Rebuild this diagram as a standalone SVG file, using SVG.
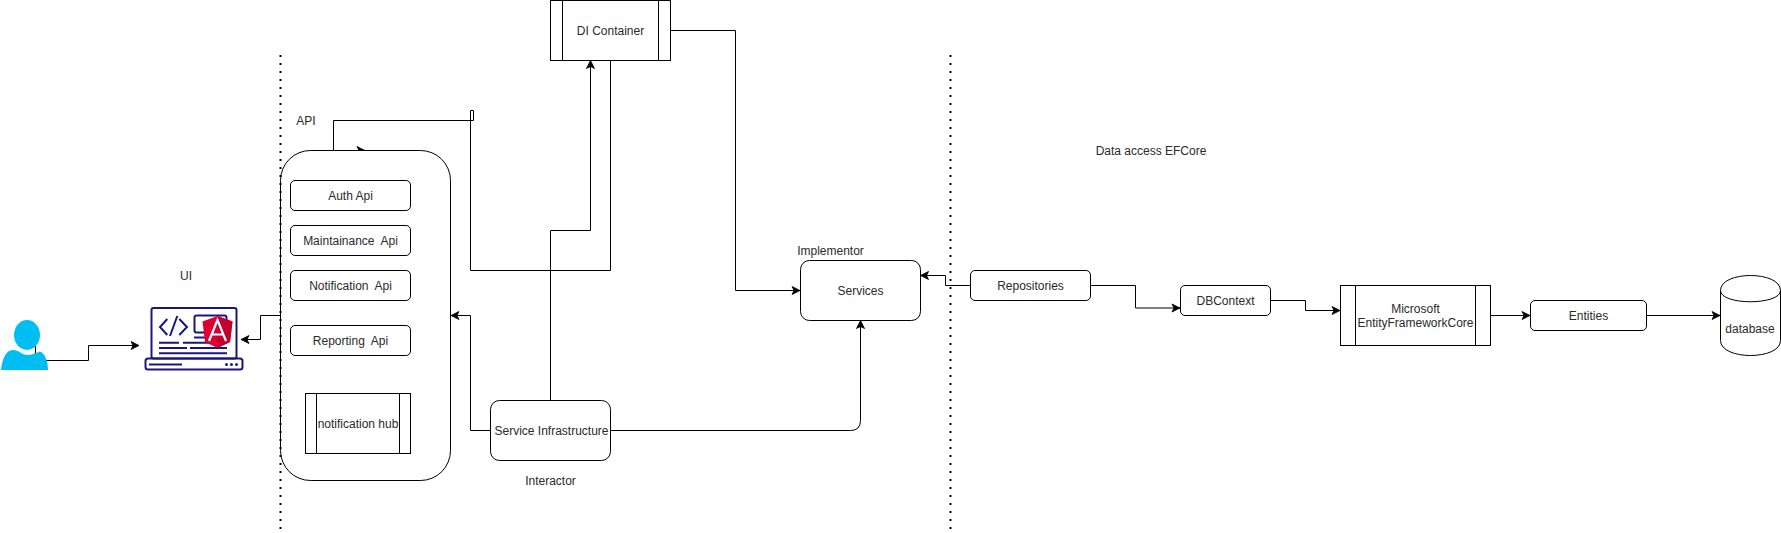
<svg xmlns="http://www.w3.org/2000/svg" width="1781" height="533" viewBox="0 0 1781 533">
<style>
text{font-family:"Liberation Sans",Arial,sans-serif;font-size:12px;fill:#2a2a2a;text-anchor:middle;white-space:pre}
.n{fill:#fff;stroke:#000;stroke-width:1}
.i{fill:none;stroke:#000;stroke-width:1}
.c{fill:none;stroke:#000;stroke-width:1;marker-end:url(#a)}
.d{fill:none;stroke:#000;stroke-width:1}
.v{fill:none;stroke:#000;stroke-width:2;stroke-dasharray:2 6}
.nv{fill:none;stroke:#1a1680;stroke-width:2}
</style>
<defs>
<marker id="a" markerUnits="userSpaceOnUse" markerWidth="10" markerHeight="10" refX="9" refY="5" orient="auto"><path d="M1 1L9 5L1 9L3 5Z" fill="#000" stroke="#000" stroke-width=".8"/></marker>
</defs>
<g id="connectors">
<path class="c" d="M46 360.500H88.500V345.500H139"/>
<path class="c" d="M280 315.500H260.500V339.500H241"/>
<path class="c" d="M610.500 60V270.500H470.500V110.500H473.500V120.500H333.500V150.500H365"/>
<path class="c" d="M550.500 400V230.500H590.500V60.500"/>
<path class="c" d="M490 430.500H470.500V315.500H451"/>
<path class="c" d="M670 30.500H735.500V290.500H800"/>
<path class="c" d="M610.500 430.500H850.500Q860.500 430.500 860.500 420.500V320.500"/>
<path class="c" d="M970 285.500H945.500V275.500H920.500"/>
<path class="c" d="M1090.500 285.500H1135.500V308H1180"/>
<path class="c" d="M1270.500 300.500H1305.500V310.500H1340"/>
<path class="c" d="M1490.500 315.500H1530"/>
<path class="c" d="M1646.500 315.500H1720"/>
</g>
<g id="person">
<path class="d" d="M35.500 346V355"/>
<ellipse cx="27" cy="335" rx="13" ry="15" fill="#00bef2"/>
<path d="M1 370C2 359 6 350 13 350C19 350 22 355 27 355C32 355 36 353 40 351.500C45 353 48 362 48 370Z" fill="#00bef2"/>
</g>
<g id="ui">
<rect x="151.500" y="308" width="85" height="50.500" rx="2" fill="#fff" class="nv"/>
<rect x="145.500" y="358.500" width="97" height="11" rx="2.500" fill="#fff" class="nv"/>
<path class="nv" d="M149 364.500H182" stroke-width="1.500"/>
<circle cx="226.500" cy="364.500" r="1.500" fill="#1a1680" stroke="none"/><circle cx="231.500" cy="364.500" r="1.500" fill="#1a1680"/><circle cx="236.500" cy="364.500" r="1.500" fill="#1a1680"/>
<path class="nv" d="M167.300 319L160 327L167.300 335M177.300 316L170 336M179.300 319L187 327L179.300 335"/>
<rect x="194.500" y="315.500" width="32" height="17" rx="2" class="nv"/>
<path class="nv" d="M194 337.500H206M159 342.700H179M183 342.700H227M159 348H187M190 348H227M159 353.300H227"/>
<path d="M217.500 316L232.500 321.500L230 342L217.500 348L205 342L202.500 321.500Z" fill="#dd0031"/>
<path d="M217.500 316L232.500 321.500L230 342L217.500 348Z" fill="#c3002f"/>
<path d="M209 341L217.500 320L226 341M212 334.500H223" fill="none" stroke="#fff" stroke-width="2.200"/>
</g>
<text x="186" y="280">UI</text>
<text x="306" y="125">API</text>
<g id="api">
<rect class="n" x="280.500" y="150.500" width="170" height="330" rx="30"/>
</g>
<g id="auth-api"><rect class="n" x="290.500" y="180.500" width="120" height="30" rx="4.500"/><text x="350.500" y="200">Auth Api</text></g>
<g id="maintainance-api"><rect class="n" x="290.500" y="225.500" width="120" height="30" rx="4.500"/><text x="350.500" y="245">Maintainance  Api</text></g>
<g id="notification-api"><rect class="n" x="290.500" y="270.500" width="120" height="30" rx="4.500"/><text x="350.500" y="290">Notification  Api</text></g>
<g id="reporting-api"><rect class="n" x="290.500" y="325.500" width="120" height="30" rx="4.500"/><text x="350.500" y="345">Reporting  Api</text></g>
<g id="notification-hub"><rect class="n" x="305.500" y="393.500" width="105" height="60"/><path class="i" d="M316.500 393.500V453.500M399.500 393.500V453.500"/><text x="358" y="428">notification hub</text></g>
<g id="di-container"><rect class="n" x="550.500" y="0.500" width="120" height="60"/><path class="i" d="M562.500 .5V60.500M658.500 .5V60.500"/><text x="610.500" y="35">DI Container</text></g>
<g id="service-infrastructure"><rect class="n" x="490.500" y="400.500" width="120" height="60" rx="9"/><text x="551.500" y="435">Service Infrastructure</text></g>
<text x="550.500" y="485">Interactor</text>
<text x="830.500" y="255">Implementor</text>
<g id="services"><rect class="n" x="800.500" y="260.500" width="120" height="60" rx="9"/><text x="860.500" y="295">Services</text></g>
<g id="repositories"><rect class="n" x="970.500" y="270.500" width="120" height="30" rx="4.500"/><text x="1030.500" y="290">Repositories</text></g>
<g id="dbcontext"><rect class="n" x="1180.500" y="285.500" width="90" height="30" rx="4.500"/><text x="1225.500" y="305">DBContext</text></g>
<g id="efcore"><rect class="n" x="1340.500" y="285.500" width="150" height="60"/><path class="i" d="M1355.500 285.500V345.500M1475.500 285.500V345.500"/><text x="1415.500" y="313">Microsoft</text><text x="1415.500" y="327">EntityFrameworkCore</text></g>
<g id="entities"><rect class="n" x="1530.500" y="300.500" width="116" height="30" rx="4.500"/><text x="1588.500" y="320">Entities</text></g>
<g id="database"><path class="n" d="M1720.500 290.500C1720.500 270.500 1780.500 270.500 1780.500 290.500V340.500C1780.500 360.500 1720.500 360.500 1720.500 340.500Z"/><path class="i" d="M1720.500 290.500C1720.500 305.500 1780.500 305.500 1780.500 290.500"/><text x="1750" y="333">database</text></g>
<text x="1151" y="155">Data access EFCore</text>
<g id="separators">
<path class="v" d="M280.500 55V533"/>
<path class="v" d="M950.500 55V533"/>
</g>
</svg>
